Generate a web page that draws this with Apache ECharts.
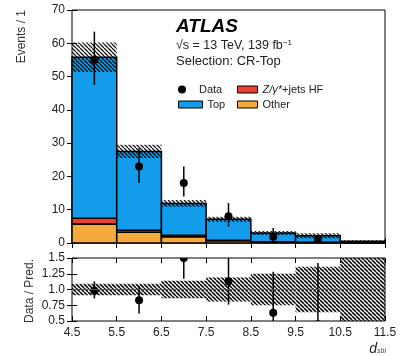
<!DOCTYPE html>
<html><head><meta charset="utf-8">
<script src="https://cdn.jsdelivr.net/npm/echarts@6/dist/echarts.min.js"></script>
<style>html,body{margin:0;padding:0;background:#fff}#c{width:403px;height:356px}</style>
</head><body><div id="c"></div><script>
// bins: 4.5-5.5, 5.5-6.5, ..., 10.5-11.5 (index space 0..7 on the axis)
const xTickLabels = ['4.5','5.5','6.5','7.5','8.5','9.5','10.5','11.5'];
const otherVals = [5.7, 3.2, 1.9, 0.7, 0.3, 0.15, 0.05];
const zhfVals   = [1.7, 0.6, 0.4, 0.15, 0.1, 0.05, 0.02];
const topVals   = [48.4, 23.7, 9.6, 6.25, 2.6, 2.0, 0.43];
const predErr   = [4.4, 2.0, 1.0, 0.75, 0.6, 0.75, 0.35];
const dataVal   = [55, 23, 18, 8, 1.9, 1.0, null];
const dataLo    = [47.5, 18, 14, 5, 0.7, 0.2, null];
const dataHi    = [63.5, 28.5, 23, 12, 4.5, 2.3, null];
const ratioVal  = [0.98, 0.83, 1.5, 1.13, 0.63, 0.45, null];
const ratioLo   = [0.86, 0.62, 1.17, 0.76, 0.3, 0.1, null];
const ratioHi   = [1.13, 1.05, 1.85, 1.6, 1.28, 1.42, null];
const ratioBand = [0.09, 0.09, 0.14, 0.19, 0.25, 0.36, 0.6];
const ratioTickVals = [0.5, 0.75, 1.0, 1.25, 1.5];
const ratioTickLabels = ['0.5', '0.75', '1.0', '1.25', '1.5'];

const C_TOP = '#139ceb', C_ZHF = '#e8412f', C_OTHER = '#f7aa3c';

function hatch(color, period, lw){
  const c = document.createElement('canvas'); c.width = period; c.height = period;
  const g = c.getContext('2d'); g.strokeStyle = color; g.lineWidth = lw;
  g.beginPath();
  for (let k = -1; k <= 1; k++){ g.moveTo(k*period, 0); g.lineTo(k*period + period, period); }
  g.stroke(); return c;
}
const hatchMain = hatch('rgba(0,0,0,0.9)', 4, 1.3);
const hatchRatio = hatch('#111', 4, 1.6);

const stackOther = otherVals.map((v,i)=>[i, 0, v]);
const stackZ = zhfVals.map((v,i)=>[i, otherVals[i], otherVals[i]+v]);
const stackTop = topVals.map((v,i)=>[i, otherVals[i]+zhfVals[i], otherVals[i]+zhfVals[i]+v]);
const predTot = topVals.map((v,i)=>v+otherVals[i]+zhfVals[i]);
const bandMain = predTot.map((p,i)=>[i, p-predErr[i], p+predErr[i]]);
const bandRatio = ratioBand.map((b,i)=>[i, 1-b, 1+b]);
const ptsMain = []; dataVal.forEach((v,i)=>{ if(v!=null) ptsMain.push([i+0.5, v, dataLo[i], dataHi[i]]); });
const ptsRatio = []; ratioVal.forEach((v,i)=>{ if(v!=null) ptsRatio.push([i+0.5, v, ratioLo[i], ratioHi[i]]); });
const ratioTickData = ratioTickVals.map((v,i)=>[0, v, i]);

function rectRender(fill, stroke, lw){
  return function(params, api){
    const i = api.value(0), lo = api.value(1), hi = api.value(2);
    const p0 = api.coord([i, lo]), p1 = api.coord([i+1, hi]);
    return {type:'rect', shape:{x:p0[0], y:p1[1], width:p1[0]-p0[0], height:p0[1]-p1[1]},
      style:{fill: fill, stroke: stroke, lineWidth: lw}};
  };
}
function pointRender(params, api){
  const x = api.value(0), v = api.value(1), lo = api.value(2), hi = api.value(3);
  const a = api.coord([x, lo]), b = api.coord([x, hi]), c = api.coord([x, v]);
  const cs = params.coordSys;
  return {type:'group', children:[
    {type:'line', shape:{x1:a[0], y1:a[1], x2:b[0], y2:b[1]}, style:{stroke:'#000', lineWidth:1.5}},
    {type:'circle', shape:{cx:c[0], cy:c[1], r:4}, style:{fill:'#000'}}
  ], clipPath:{type:'rect', shape:{x:cs.x, y:cs.y, width:cs.width, height:cs.height}}};
}
function ratioTickRender(params, api){
  const p = api.coord([api.value(0), api.value(1)]);
  return {type:'text', x:p[0]-7, y:p[1], style:{text: ratioTickLabels[api.value(2)], textAlign:'right', textVerticalAlign:'middle',
    font:'12px "Liberation Sans"', fill:'#222'}};
}

const tick = {show:true, inside:true, length:5, lineStyle:{color:'#000', width:1}};
const noLabel = {show:false};
const labelStyle = {fontSize:12, color:'#222', fontFamily:'Liberation Sans'};

const option = {
  animation:false,
  grid:[
    {left:72, right:18, top:10, bottom:113, show:true, borderColor:'#000', borderWidth:1},
    {left:72, right:18, top:258, bottom:35, show:true, borderColor:'#000', borderWidth:1}
  ],
  xAxis:[
    {type:'value', gridIndex:0, min:0, max:7, interval:1, axisLine:{show:false}, axisTick:tick, axisLabel:noLabel, splitLine:{show:false}},
    {type:'value', gridIndex:0, position:'top', min:0, max:7, interval:1, axisLine:{show:false}, axisTick:tick, axisLabel:noLabel, splitLine:{show:false}},
    {type:'value', gridIndex:1, min:0, max:7, interval:1, axisLine:{show:false}, axisTick:tick,
      axisLabel:Object.assign({margin:6, formatter:v=>xTickLabels[Math.round(v)]}, labelStyle), splitLine:{show:false}},
    {type:'value', gridIndex:1, position:'top', min:0, max:7, interval:1, axisLine:{show:false}, axisTick:tick, axisLabel:noLabel, splitLine:{show:false}}
  ],
  yAxis:[
    {type:'value', gridIndex:0, min:0, max:70, interval:10, axisLine:{show:false}, axisTick:tick,
      axisLabel:Object.assign({margin:7}, labelStyle), splitLine:{show:false}},
    {type:'value', gridIndex:0, position:'right', min:0, max:70, interval:10, axisLine:{show:false}, axisTick:tick, axisLabel:noLabel, splitLine:{show:false}},
    {type:'value', gridIndex:1, min:0.5, max:1.5, interval:0.25, axisLine:{show:false}, axisTick:tick, axisLabel:noLabel, splitLine:{show:false}},
    {type:'value', gridIndex:1, position:'right', min:0.5, max:1.5, interval:0.25, axisLine:{show:false}, axisTick:tick, axisLabel:noLabel, splitLine:{show:false}}
  ],
  legend:[
    {left:173, top:79, itemWidth:24, itemHeight:8, data:[{name:'Data', icon:'circle'}], textStyle:{fontSize:11, color:'#222'}},
    {left:232, top:79, itemWidth:20, itemHeight:7, data:[{name:'Z/γ*+jets HF', icon:'rect'}], itemStyle:{borderColor:'#000', borderWidth:1},
      formatter:()=>'{i|Z/γ*}+jets HF', textStyle:{fontSize:11, color:'#222', rich:{i:{fontStyle:'italic', fontSize:11, color:'#222'}}}},
    {left:173, top:94, itemWidth:24, itemHeight:7, data:[{name:'Top', icon:'rect'}], itemStyle:{borderColor:'#000', borderWidth:1}, textStyle:{fontSize:11, color:'#222'}},
    {left:232, top:94, itemWidth:20, itemHeight:7, data:[{name:'Other', icon:'rect'}], itemStyle:{borderColor:'#000', borderWidth:1}, textStyle:{fontSize:11, color:'#222'}}
  ],
  series:[
    {name:'Other', type:'custom', xAxisIndex:0, yAxisIndex:0, itemStyle:{color:C_OTHER}, renderItem:rectRender(C_OTHER,'#000',1.5), data:stackOther},
    {name:'Z/γ*+jets HF', type:'custom', xAxisIndex:0, yAxisIndex:0, itemStyle:{color:C_ZHF}, renderItem:rectRender(C_ZHF,'#000',1.5), data:stackZ},
    {name:'Top', type:'custom', xAxisIndex:0, yAxisIndex:0, itemStyle:{color:C_TOP}, renderItem:rectRender(C_TOP,'#000',1.5), data:stackTop},
    {name:'Uncertainty', type:'custom', xAxisIndex:0, yAxisIndex:0, renderItem:rectRender({image:hatchMain, repeat:'repeat'}, null, 0), data:bandMain, clip:true},
    {name:'Data', type:'custom', xAxisIndex:0, yAxisIndex:0, itemStyle:{color:'#000'}, renderItem:pointRender, data:ptsMain, clip:true},
    {name:'RatioBand', type:'custom', xAxisIndex:2, yAxisIndex:2, renderItem:rectRender({image:hatchRatio, repeat:'repeat'}, null, 0), data:bandRatio, clip:true,
      markLine:{silent:true, symbol:'none', label:{show:false}, lineStyle:{color:'#9a3a3a', width:1, type:'solid'}, data:[{yAxis:1}]}},
    {name:'RatioData', type:'custom', xAxisIndex:2, yAxisIndex:2, renderItem:pointRender, data:ptsRatio, clip:true},
    {name:'RatioTicks', type:'custom', xAxisIndex:2, yAxisIndex:2, silent:true, clip:false, renderItem:ratioTickRender, data:ratioTickData}
  ],
  graphic:[
    {type:'text', x:176, y:27, style:{text:'ATLAS', font:'italic bold 19px "Liberation Sans"', fill:'#000', textVerticalAlign:'middle'}},
    {type:'text', x:176, y:46, style:{text:'√s = 13 TeV, 139 fb{s|−1}', font:'12.5px "Liberation Sans"', fill:'#222', textVerticalAlign:'middle',
      rich:{s:{fontSize:8, verticalAlign:'top', padding:[0,0,6,0], fill:'#222'}}}},
    {type:'text', x:176, y:61, style:{text:'Selection: CR-Top', font:'13px "Liberation Sans"', fill:'#222', textVerticalAlign:'middle'}},
    {type:'text', x:22, y:10, rotation:Math.PI/2, style:{text:'Events / 1', font:'12px "Liberation Sans"', fill:'#333', textAlign:'right', textVerticalAlign:'middle'}},
    {type:'text', x:30, y:291, rotation:Math.PI/2, style:{text:'Data / Pred.', font:'12px "Liberation Sans"', fill:'#333', textAlign:'center', textVerticalAlign:'middle'}},
    {type:'text', x:386, y:349, style:{text:'{d|d}{s|sbl}', textAlign:'right', textVerticalAlign:'middle',
      rich:{d:{fontSize:14, fontStyle:'italic', fontFamily:'Liberation Sans', fill:'#222'}, s:{fontSize:7, fontStyle:'italic', fontFamily:'Liberation Sans', fill:'#444', padding:[5,0,0,0]}}}}
  ]
};
const chart = echarts.init(document.getElementById('c'), null, {renderer:'canvas'});
chart.setOption(option);
</script></body></html>
